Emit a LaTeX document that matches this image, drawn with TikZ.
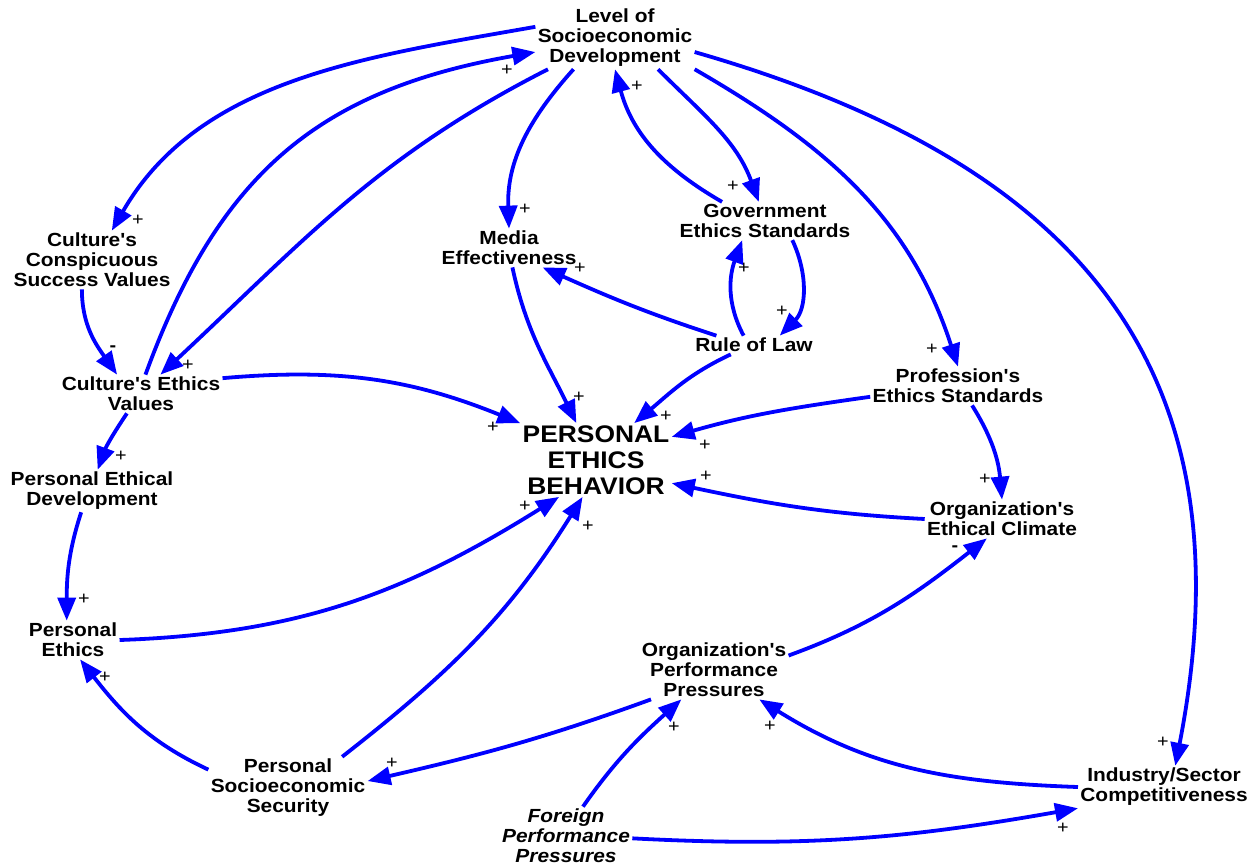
\documentclass[tikz,border=0pt]{standalone}
\usepackage{fontspec}
\setmainfont{Liberation Sans}[FakeStretch=1.1,Ligatures=TeXOff]
\usetikzlibrary{arrows.meta}
\definecolor{linkblue}{RGB}{0,0,255}

\tikzset{
  var/.style={align=center, inner sep=1pt, font=\bfseries\fontsize{9.5}{10}\selectfont},
  exo/.style={var, font=\bfseries\itshape\fontsize{9.5}{10}\selectfont},
  core/.style={align=center, inner sep=1pt, font=\bfseries\fontsize{12}{13}\selectfont},
  sign/.style={inner sep=0pt, font=\fontsize{9}{9}\selectfont},
  link/.style={draw=linkblue, line width=1.9pt, -{Triangle[length=11.5pt,width=9pt]}},
}

\begin{document}
\begin{tikzpicture}[x=0.5pt,y=0.5pt]
\useasboundingbox (0,0) rectangle (1257,-864);

% variables
\node[var] (lev) at (615,-38) {Level of\\Socioeconomic\\Development};
\node[var] (ccsv) at (92,-260) {Culture's\\Conspicuous\\Success Values};
\node[var] (cev) at (141,-394) {Culture's Ethics\\Values};
\node[var] (ped) at (92,-491) {Personal Ethical\\Development};
\node[var] (pe) at (73,-640) {Personal\\Ethics};
\node[var] (pss) at (288,-788) {Personal\\Socioeconomic\\Security};
\node[exo] (ffp) at (566,-836) {Foreign\\Performance\\Pressures};
\node[var] (opp) at (714,-670) {Organization's\\Performance\\Pressures};
\node[var] (isc) at (1164,-787) {Industry/Sector\\Competitiveness};
\node[var] (oec) at (1002,-519) {Organization's\\Ethical Climate};
\node[var] (pes) at (958,-386) {Profession's\\Ethics Standards};
\node[var] (rol) at (754,-345) {Rule of Law};
\node[var] (ges) at (765,-221) {Government\\Ethics Standards};
\node[var] (me) at (509,-248) {Media\\Effectiveness};
\node[core] (peb) at (596,-460) {PERSONAL\\ETHICS\\BEHAVIOR};

% links out of socioeconomic development
\draw[link] (lev.172) to[out=190,in=60,looseness=0.95] (ccsv.56);
\draw[link] (cev.77) to[out=70,in=190,looseness=1.1] (lev.190);
\draw[link] (lev.205) to[out=207,in=43] (cev.45);
\draw[link] (lev.217) to[out=228,in=92] (me.north);
\draw[link] (ges.156) to[out=150,in=-75] (lev.south);
\draw[link] (lev.324) to[out=-45,in=110] (ges.108);
\draw[link] (lev.south east) to[out=-30,in=108] (pes.north);
\draw[link] (lev.350) to[out=-16,in=79,looseness=1.2] (isc.62);

% left side
\draw[link] (ccsv.251) to[out=-90,in=125] (cev.141);
\draw[link] (cev.11) to[out=5,in=158] (peb.north west);
\draw[link] (cev.234) to[out=236,in=70] (ped.75);
\draw[link] (ped.243) to[out=252,in=90] (pe.108);
\draw[link] (pe.east) to[out=2,in=212] (peb.225);
\draw[link] (pss.167) to[out=155,in=-52] (pe.290);
\draw[link] (pss.30) to[out=38,in=238] (peb.250);

% bottom
\draw[link] (opp.205) to[out=200,in=13] (pss.5);
\draw[link] (ffp.60) to[out=55,in=222] (opp.222);
\draw[link] (isc.west) to[out=178,in=-32] (opp.327);
\draw[link] (ffp.358) to[out=-3,in=190] (isc.south west);
\draw[link] (opp.11) to[out=20,in=218] (oec.232);

% right side
\draw[link] (pes.306) to[out=-58,in=95] (oec.north);
\draw[link] (oec.west) to[out=177,in=-12] (peb.343);
\draw[link] (pes.187) to[out=188,in=16] (peb.17);

% rule of law and media
\draw[link] (rol.202) to[out=205,in=40] (peb.44);
\draw[link] (rol.166) to[out=162,in=-24] (me.330);
\draw[link] (rol.138) to[out=118,in=250] (ges.220);
\draw[link] (ges.325) to[out=-65,in=45] (rol.20);
\draw[link] (me.280) to[out=-78,in=116] (peb.118);

% polarities
\node[sign] (s1) at (138,-220) {+};
\node[sign] (s2) at (507,-70) {+};
\node[sign] (s3) at (188,-365) {+};
\node[sign] (s4) at (525,-209) {+};
\node[sign] (s5) at (637,-86) {+};
\node[sign] (s6) at (733,-186) {+};
\node[sign] (s7) at (932,-349) {+};
\node[sign] (s8) at (1163,-742) {+};
\node[sign] (s9) at (113,-349) {\bfseries -};
\node[sign] (s10) at (493,-427) {+};
\node[sign] (s11) at (121,-456) {+};
\node[sign] (s12) at (84,-599) {+};
\node[sign] (s13) at (525,-506) {+};
\node[sign] (s14) at (105,-677) {+};
\node[sign] (s15) at (588,-526) {+};
\node[sign] (s16) at (392,-763) {+};
\node[sign] (s17) at (674,-727) {+};
\node[sign] (s18) at (770,-726) {+};
\node[sign] (s19) at (1063,-828) {+};
\node[sign] (s20) at (955,-549) {\bfseries -};
\node[sign] (s21) at (985,-479) {+};
\node[sign] (s22) at (706,-476) {+};
\node[sign] (s23) at (705,-445) {+};
\node[sign] (s24) at (666,-416) {+};
\node[sign] (s25) at (580,-268) {+};
\node[sign] (s26) at (744,-268) {+};
\node[sign] (s27) at (782,-311) {+};
\node[sign] (s28) at (579,-397) {+};
\end{tikzpicture}
\end{document}
